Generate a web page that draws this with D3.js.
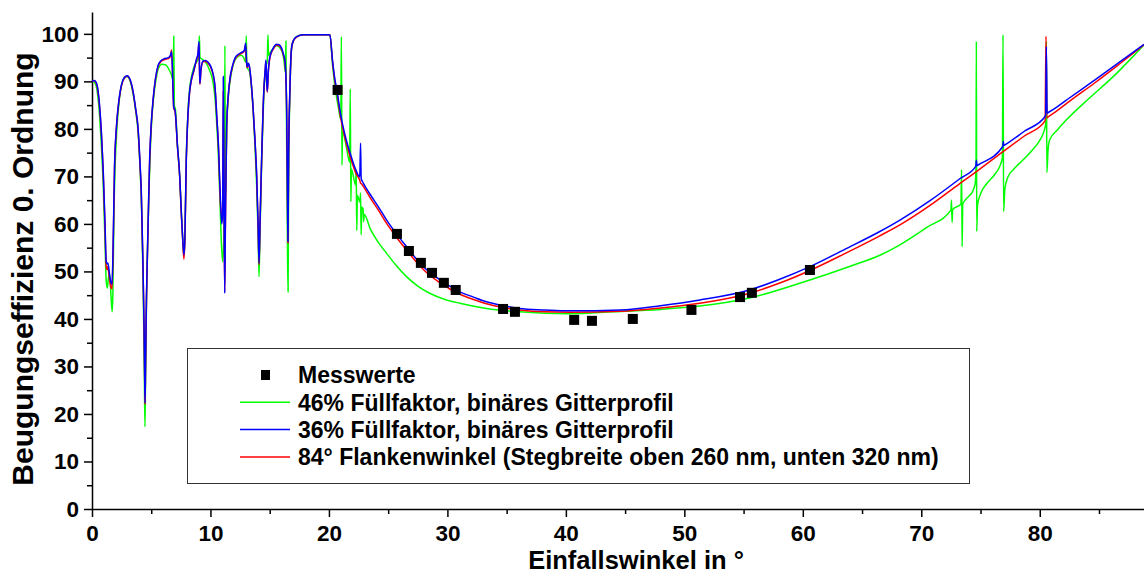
<!DOCTYPE html>
<html>
<head>
<meta charset="utf-8">
<script src="https://cdn.jsdelivr.net/npm/d3@7"></script>
<style>
  body { margin: 0; background: #fff; }
  svg text { font-family: "Liberation Sans", Arial, sans-serif; font-weight: bold; fill: #000; }
</style>
</head>
<body>
<script>
const width = 1144;
const height = 576;

// Messwerte (angle in deg, efficiency in %)
const messwerte = [
    [20.73, 88.2], [25.74, 57.9], [26.75, 54.3], [27.76, 51.8], [28.7, 49.7],
    [29.7, 47.6], [30.7, 46.1], [34.7, 42.1], [35.7, 41.5], [40.7, 39.8],
    [42.2, 39.6], [45.65, 40.0], [50.6, 41.9], [54.7, 44.6], [55.7, 45.5],
    [60.6, 50.3]
];

// 46% Füllfaktor, binäres Gitterprofil
const fuell46 = [
    [0, 90], [0.2, 89.8], [0.4, 88.5], [0.6, 84], [0.8, 76], [0.95, 68], [1.1, 56], [1.2, 48],
    [1.29, 46.5], [1.38, 48.5], [1.48, 49.6], [1.58, 46], [1.7, 41.5], [1.76, 45], [1.85, 62],
    [1.95, 72], [2.1, 80], [2.3, 86], [2.5, 89.3], [2.75, 90.8], [2.95, 91], [3.2, 90.2],
    [3.46, 87.5], [3.7, 83.5], [3.9, 79], [4.05, 72], [4.2, 62], [4.33, 45], [4.42, 28],
    [4.47, 17.3], [4.52, 28], [4.6, 44], [4.7, 56], [4.8, 66], [4.9, 74], [5.05, 82],
    [5.2, 86.5], [5.4, 90.3], [5.6, 92.7], [5.9, 93.6], [6.2, 93.5], [6.5, 92.5], [6.75, 91],
    [6.85, 90], [6.9, 99.5], [6.95, 85], [7.05, 84], [7.2, 77], [7.4, 70], [7.55, 62],
    [7.68, 56], [7.76, 53.5], [7.84, 57], [7.96, 74], [8.1, 83.5], [8.24, 88.5], [8.4, 91],
    [8.6, 93], [8.8, 94], [9.0, 94.8], [9.06, 99.6], [9.12, 95], [9.3, 94.7], [9.6, 94],
    [9.9, 92.5], [10.2, 90], [10.4, 86], [10.55, 80], [10.66, 75], [10.8, 65], [10.92, 56],
    [11.03, 52], [11.15, 60], [11.22, 97.5], [11.26, 65], [11.37, 80], [11.5, 86.5],
    [11.65, 90], [11.85, 92.8], [12.07, 94.5], [12.35, 95.3], [12.6, 95.5], [12.8, 95],
    [12.97, 94], [13.02, 99.6], [13.08, 93], [13.3, 92], [13.45, 89], [13.6, 84], [13.75, 77],
    [13.9, 68], [14.02, 58], [14.1, 48.9], [14.18, 58], [14.32, 73], [14.5, 87], [14.65, 92.5],
    [14.8, 94.5], [14.85, 99.8], [14.9, 95.5], [15.1, 96.3], [15.58, 97.5], [16.0, 96.5],
    [16.2, 94.5], [16.32, 92], [16.37, 98.5], [16.42, 80], [16.5, 55], [16.55, 45.7],
    [16.6, 70], [16.7, 87], [16.85, 97], [17.0, 98.6], [17.27, 99.4], [17.83, 99.8],
    [20.08, 99.8], [20.3, 93.5], [20.5, 89], [20.8, 84.5], [21.0, 82], [21.05, 99.4],
    [21.1, 72.4], [21.15, 79.5], [21.5, 75.8], [21.75, 73], [21.8, 88.4], [21.85, 64.7],
    [21.9, 71.5], [22.25, 68.2], [22.3, 71.4], [22.35, 58.6], [22.4, 66], [22.62, 64.6],
    [22.67, 66.5], [22.72, 57.7], [22.77, 63.5], [22.88, 63.2], [22.93, 60.5], [22.98, 62],
    [23.5, 58.9], [24.2, 56], [24.87, 53.8], [25.7, 51.2], [26.55, 48.9], [27.5, 46.9],
    [28.5, 45.4], [29.8, 44.1], [31.05, 43.3], [33.3, 42.2], [36.1, 41.5], [40.3, 41.1],
    [44, 41.5], [48, 42], [51.3, 42.7], [55.5, 44.4], [60.6, 48.2], [64, 51.1], [66.5, 53.4],
    [68.2, 55.6], [70.5, 59.3], [72.5, 62.9], [72.55, 65], [72.6, 60.3], [72.65, 63],
    [73.35, 64.2], [73.4, 71.4], [73.45, 55.2], [73.5, 64.2], [74.0, 65.8], [74.3, 66.7],
    [74.55, 68.5], [74.62, 72], [74.65, 98.4], [74.68, 58.4], [74.75, 64], [75.0, 66.3],
    [75.5, 68.4], [76.2, 70.4], [76.6, 72], [76.85, 74], [76.9, 99.8], [76.95, 62.6],
    [77.05, 67.2], [77.3, 69.8], [77.8, 71.5], [78.6, 73.5], [79.4, 75.6], [80.0, 77.6],
    [80.3, 79.1], [80.5, 81], [80.56, 98.4], [80.6, 70.8], [80.7, 75.5], [80.84, 77.7],
    [81.5, 79.8], [82.25, 81.9], [84.2, 86.5], [86.2, 91], [88.8, 97.7]
];

// 36% Füllfaktor, binäres Gitterprofil
const fuell36 = [
    [0, 90], [0.2, 90.2], [0.4, 89.5], [0.6, 86], [0.8, 79], [0.95, 71], [1.1, 60], [1.2, 52],
    [1.27, 51.6], [1.33, 51.8], [1.4, 51], [1.5, 49], [1.62, 47.5], [1.69, 47.3], [1.78, 55],
    [1.9, 72], [2.05, 80], [2.2, 84.5], [2.4, 88.2], [2.6, 90.2], [2.8, 91], [2.98, 91.2],
    [3.2, 90.5], [3.46, 88], [3.7, 84], [3.88, 80.5], [4.05, 73], [4.16, 67], [4.3, 52],
    [4.39, 39], [4.45, 27], [4.48, 22.3], [4.52, 30], [4.6, 45], [4.67, 53], [4.78, 65],
    [4.87, 74], [5.0, 81], [5.15, 86], [5.35, 90.5], [5.57, 93.3], [5.8, 94.3], [6.13, 94.8],
    [6.45, 95], [6.62, 95.5], [6.72, 96.3], [6.82, 90], [6.9, 84.5], [7.0, 84], [7.05, 83],
    [7.2, 77], [7.4, 70.3], [7.55, 62], [7.68, 56], [7.76, 53.5], [7.84, 57], [7.96, 73.8],
    [8.1, 83], [8.24, 87.9], [8.4, 90.5], [8.6, 92.4], [8.8, 94.5], [8.95, 96], [9.03, 98.4],
    [9.08, 92], [9.11, 89.6], [9.2, 92.5], [9.37, 94.3], [9.6, 94.4], [9.8, 94], [10.0, 93.3],
    [10.2, 91.8], [10.38, 89], [10.55, 82], [10.66, 77.3], [10.86, 64], [10.95, 60],
    [11.03, 62], [11.08, 91], [11.14, 70], [11.2, 45.4], [11.26, 60], [11.37, 80.8],
    [11.5, 87], [11.65, 90.7], [11.85, 93.2], [12.07, 94.9], [12.35, 95.7], [12.63, 96.1],
    [12.85, 96.5], [12.97, 98], [13.05, 94], [13.1, 93.1], [13.2, 93.8], [13.3, 93],
    [13.45, 89.5], [13.6, 84.4], [13.75, 78], [13.9, 70.3], [14.02, 60], [14.1, 51.7],
    [14.18, 60], [14.32, 73.8], [14.5, 87.9], [14.62, 92.5], [14.68, 94.5], [14.75, 90],
    [14.8, 87.9], [14.88, 92], [15.02, 95.2], [15.3, 97], [15.58, 97.8], [15.8, 97.7],
    [16.0, 97], [16.15, 95.8], [16.29, 94.2], [16.38, 90], [16.43, 84.4], [16.5, 66],
    [16.54, 56.3], [16.6, 75], [16.7, 87.9], [16.85, 97.2], [17.0, 98.6], [17.27, 99.4],
    [17.83, 99.8], [20.08, 99.8], [20.3, 94.5], [20.5, 90.5], [20.7, 87.8], [20.9, 84.3],
    [21.1, 81.6], [21.35, 78.8], [21.8, 74.8], [22.3, 71.2], [22.6, 69.9], [22.67, 77],
    [22.72, 69.6], [22.9, 68.6], [23.46, 66.3], [24.2, 63.5], [24.87, 60.8], [25.7, 57.9],
    [26.55, 55.2], [27.7, 51.7], [28.5, 49.8], [29.4, 48.2], [30.2, 46.9], [31.05, 45.7],
    [32.2, 44.6], [33.3, 43.6], [34.7, 42.8], [36.1, 42.2], [38.2, 41.9], [40.3, 41.7],
    [44.6, 41.9], [48, 42.8], [51.3, 44], [55.5, 46.1], [58, 48.3], [60.6, 51], [63.5, 54.6],
    [66.5, 58.4], [68.2, 60.8], [70.8, 65], [73.25, 69.5], [74.6, 72.1], [74.65, 73.4],
    [74.7, 72.25], [74.8, 72.4], [76.88, 76.3], [76.92, 77.4], [76.97, 76.5], [77.1, 76.7],
    [78.7, 79.5], [80.45, 82.6], [80.5, 83], [80.56, 97.3], [80.62, 83.3], [80.75, 83.5],
    [81.5, 84.7], [82.5, 86.5], [84.6, 90.2], [86.7, 94], [88.8, 97.8]
];

// 84° Flankenwinkel (Stegbreite oben 260 nm, unten 320 nm)
const flanke84 = [
    [0, 90], [0.2, 90.1], [0.4, 89.3], [0.6, 85.7], [0.8, 78.5], [0.95, 70.5], [1.1, 59],
    [1.2, 51], [1.27, 50.4], [1.33, 51], [1.4, 50], [1.5, 48], [1.62, 46.5], [1.69, 46.3],
    [1.78, 54], [1.9, 71.5], [2.05, 79.8], [2.2, 84.3], [2.4, 88], [2.6, 90], [2.8, 90.9],
    [2.98, 91.1], [3.2, 90.4], [3.46, 87.8], [3.7, 83.8], [3.88, 80.2], [4.05, 72.5],
    [4.16, 66.5], [4.3, 51.5], [4.39, 38.5], [4.45, 26.5], [4.48, 22], [4.52, 29.5],
    [4.6, 44.5], [4.67, 52.5], [4.78, 64.5], [4.87, 73.5], [5.0, 80.7], [5.15, 85.8],
    [5.35, 90.3], [5.57, 93.1], [5.8, 94.1], [6.13, 94.6], [6.45, 94.8], [6.62, 95.3],
    [6.72, 96.6], [6.82, 90], [6.9, 84.3], [7.0, 83.8], [7.05, 82.8], [7.2, 76.7], [7.4, 70],
    [7.55, 61.5], [7.68, 55.5], [7.76, 52.6], [7.84, 56.5], [7.96, 73.5], [8.1, 82.8],
    [8.24, 87.7], [8.4, 90.3], [8.6, 92.2], [8.8, 94.3], [8.95, 95.8], [9.03, 98], [9.08, 91.8],
    [9.11, 89.4], [9.2, 92.3], [9.37, 94.1], [9.6, 94.2], [9.8, 93.8], [10.0, 93.1],
    [10.2, 91.6], [10.38, 88.8], [10.55, 81.7], [10.66, 77], [10.86, 63.5], [10.97, 61.5],
    [11.03, 62.3], [11.08, 88], [11.14, 68], [11.2, 45.6], [11.26, 59.5], [11.37, 80.5],
    [11.5, 86.8], [11.65, 90.5], [11.85, 93], [12.07, 94.7], [12.35, 95.5], [12.63, 95.9],
    [12.85, 96.3], [12.97, 97.6], [13.05, 93.8], [13.1, 92.9], [13.2, 93.6], [13.3, 92.8],
    [13.45, 89.3], [13.6, 84.2], [13.75, 77.8], [13.9, 70], [14.02, 59.7], [14.1, 51.4],
    [14.18, 59.7], [14.32, 73.5], [14.5, 87.7], [14.62, 92.3], [14.68, 94.2], [14.75, 89.8],
    [14.8, 87.7], [14.88, 91.8], [15.02, 95], [15.3, 96.8], [15.58, 97.6], [15.8, 97.5],
    [16.0, 96.8], [16.15, 95.6], [16.29, 94], [16.38, 89.8], [16.43, 84.2], [16.5, 65.7],
    [16.54, 56], [16.6, 74.7], [16.7, 87.7], [16.85, 97], [17.0, 98.5], [17.27, 99.3],
    [17.83, 99.8], [20.08, 99.8], [20.3, 94.2], [20.5, 90], [20.7, 87.2], [20.9, 83.7],
    [21.1, 80.9], [21.35, 78.1], [21.8, 74.1], [22.3, 70.5], [22.6, 69.2], [22.67, 68.6],
    [22.76, 68.4], [22.9, 67.9], [23.46, 65.6], [24.2, 62.8], [24.87, 60.1], [25.7, 57.2],
    [26.55, 54.5], [27.7, 51.1], [28.5, 49.2], [29.4, 47.6], [30.2, 46.3], [31.05, 45.2],
    [32.2, 44.1], [33.3, 43.2], [34.7, 42.4], [36.1, 41.9], [38.2, 41.5], [40.3, 41.4],
    [44.6, 41.6], [48, 42.3], [51.3, 43.3], [55.5, 45.4], [58, 47.5], [60.6, 50.2],
    [63.5, 53.7], [66.5, 57.5], [68.2, 59.8], [70.8, 64], [73.25, 68.5], [74.65, 71],
    [76.9, 75.2], [78.7, 78.5], [80.45, 81.7], [80.53, 99.5], [80.6, 82.3], [80.7, 82.5],
    [81.5, 83.9], [82.5, 85.8], [84.6, 89.6], [86.7, 93.6], [88.8, 97.7]
];

const xTicks = [0, 10, 20, 30, 40, 50, 60, 70, 80];
const xMinorTicks = [5, 15, 25, 35, 45, 55, 65, 75, 85];
const yTicks = [0, 10, 20, 30, 40, 50, 60, 70, 80, 90, 100];
const yMinorTicks = [5, 15, 25, 35, 45, 55, 65, 75, 85, 95];

const legendItems = [
    { label: "Messwerte", type: "square", color: "#000" },
    { label: "46% Füllfaktor, binäres Gitterprofil", type: "line", color: "#00ff00" },
    { label: "36% Füllfaktor, binäres Gitterprofil", type: "line", color: "#0000ff" },
    { label: "84° Flankenwinkel (Stegbreite oben 260 nm, unten 320 nm)", type: "line", color: "#ff0000" }
];

const svg = d3.select("body")
    .append("svg")
    .attr("width", width)
    .attr("height", height);

// scales
const x = d3.scaleLinear().domain([0, 88.8]).range([92, 1144]);
const y = d3.scaleLinear().domain([0, 104.6]).range([509, 12]);

// axes
const xAxis = svg.append("g")
    .attr("transform", `translate(0,${y(0)})`)
    .call(d3.axisBottom(x).tickValues(xTicks).tickSize(8).tickSizeOuter(0).tickPadding(8).tickFormat(d3.format("d")));
svg.append("g")
    .attr("transform", `translate(0,${y(0)})`)
    .call(d3.axisBottom(x).tickValues(xMinorTicks).tickSize(5).tickSizeOuter(0).tickFormat(""))
    .select(".domain").remove();

const yAxis = svg.append("g")
    .attr("transform", `translate(${x(0)},0)`)
    .call(d3.axisLeft(y).tickValues(yTicks).tickSize(8).tickSizeOuter(0).tickPadding(5).tickFormat(d3.format("d")));
svg.append("g")
    .attr("transform", `translate(${x(0)},0)`)
    .call(d3.axisLeft(y).tickValues(yMinorTicks).tickSize(5).tickSizeOuter(0).tickFormat(""))
    .select(".domain").remove();

svg.selectAll(".domain").attr("stroke", "#000").attr("stroke-width", 1.5);
svg.selectAll(".tick line").attr("stroke", "#000").attr("stroke-width", 1.5);
xAxis.selectAll("text").attr("font-size", 22.5).attr("font-family", null);
yAxis.selectAll("text").attr("font-size", 22.5).attr("font-family", null);

// axis titles
svg.append("text")
    .attr("x", 636)
    .attr("y", 569)
    .attr("text-anchor", "middle")
    .attr("font-size", 25.5)
    .text("Einfallswinkel in °");

svg.append("text")
    .attr("transform", `translate(33,${269}) rotate(-90)`)
    .attr("text-anchor", "middle")
    .attr("font-size", 30)
    .text("Beugungseffizienz 0. Ordnung");

// curves
const line = d3.line()
    .x(d => x(d[0]))
    .y(d => y(d[1]))
    .curve(d3.curveMonotoneX);

const series = [
    { data: fuell46, color: "#00ff00" },
    { data: flanke84, color: "#ff0000" },
    { data: fuell36, color: "#0000ff" }
];

svg.selectAll(".curve")
    .data(series)
    .enter()
    .append("path")
    .attr("class", "curve")
    .attr("d", d => line(d.data))
    .attr("fill", "none")
    .attr("stroke", d => d.color)
    .attr("stroke-width", 1.5);

// measured points
svg.selectAll(".mess")
    .data(messwerte)
    .enter()
    .append("rect")
    .attr("class", "mess")
    .attr("x", d => x(d[0]) - 5)
    .attr("y", d => y(d[1]) - 5)
    .attr("width", 10)
    .attr("height", 10)
    .attr("fill", "#000");

// legend
const legend = svg.append("g");
legend.append("rect")
    .attr("x", 187.5)
    .attr("y", 348.5)
    .attr("width", 782)
    .attr("height", 135)
    .attr("fill", "#fff")
    .attr("stroke", "#333")
    .attr("stroke-width", 1);

const rows = legend.selectAll(".row")
    .data(legendItems)
    .enter()
    .append("g")
    .attr("class", "row")
    .attr("transform", (d, i) => `translate(0,${375 + i * 27.3})`);

rows.filter(d => d.type === "square")
    .append("rect")
    .attr("x", 261)
    .attr("y", -5)
    .attr("width", 9)
    .attr("height", 10)
    .attr("fill", d => d.color);

rows.filter(d => d.type === "line")
    .append("line")
    .attr("x1", 240)
    .attr("x2", 290)
    .attr("y1", 0)
    .attr("y2", 0)
    .attr("stroke", d => d.color)
    .attr("stroke-width", 1.5);

rows.append("text")
    .attr("x", 298)
    .attr("dy", "0.36em")
    .attr("font-size", 23)
    .text(d => d.label);
</script>
</body>
</html>
